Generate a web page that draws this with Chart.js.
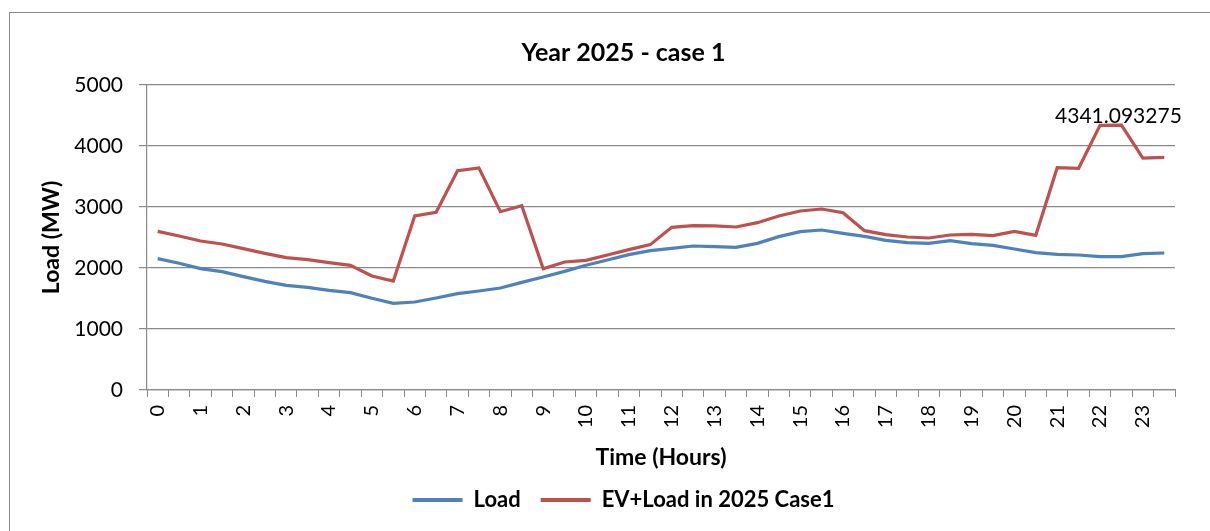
<!DOCTYPE html>
<html>
<head>
<meta charset="utf-8">
<script src="https://cdn.jsdelivr.net/npm/chart.js@4/dist/chart.umd.min.js"></script>
<style>
  html, body { margin: 0; padding: 0; background: #ffffff; overflow: hidden; }
  #wrap { position: relative; width: 1210px; height: 531px; }
  #frame { position: absolute; left: 9px; top: 12px; width: 1400px; height: 700px; border: 1px solid #8a8a8a; box-sizing: border-box; pointer-events: none; }
  canvas { position: absolute; left: 0; top: 0; }
</style>
</head>
<body>
<div id="wrap">
  <div id="frame"></div>
  <canvas id="c" width="1210" height="531"></canvas>
</div>
<script>
const chartTitle = 'Year 2025 - case 1';
const xTitle = 'Time (Hours)';
const yTitle = 'Load (MW)';

// 48 half-hour categories
const categories = ['0','0.5','1','1.5','2','2.5','3','3.5','4','4.5','5','5.5',
  '6','6.5','7','7.5','8','8.5','9','9.5','10','10.5','11','11.5',
  '12','12.5','13','13.5','14','14.5','15','15.5','16','16.5','17','17.5',
  '18','18.5','19','19.5','20','20.5','21','21.5','22','22.5','23','23.5'];

// labels shown under the axis (every other category)
const tickLabels = ['0','','1','','2','','3','','4','','5','',
  '6','','7','','8','','9','','10','','11','',
  '12','','13','','14','','15','','16','','17','',
  '18','','19','','20','','21','','22','','23',''];

const seriesNames = ['Load', 'EV+Load in 2025 Case1'];

const loadValues = [2153,2077,1989,1940,1858,1781,1716,1683,1634,1596,1503,1421,
  1443,1508,1579,1623,1672,1765,1852,1945,2044,2131,2219,2284,
  2322,2361,2350,2339,2404,2514,2596,2623,2568,2519,2454,2415,
  2404,2448,2399,2372,2311,2251,2224,2213,2186,2186,2235,2246];

const evLoadValues = [2601,2525,2443,2393,2317,2240,2169,2137,2087,2044,1869,1787,
  2852,2913,3596,3639,2923,3022,1989,2098,2126,2213,2301,2383,
  2667,2694,2689,2672,2743,2852,2934,2967,2907,2612,2546,2508,
  2492,2541,2552,2530,2601,2536,3645,3634,4338,4341.093275,3803,3814];

const labelledIndex = 45;
const yTicks = [0, 1000, 2000, 3000, 4000, 5000];

const blue = '#4f81bd';
const red = '#c0504d';
const gridGray = '#8a8a8a';
const fontFamily = 'Lato, "Open Sans", sans-serif';

const dataLabelPlugin = {
  id: 'dataLabel',
  afterDatasetsDraw(chart) {
    const meta = chart.getDatasetMeta(1);
    const pt = meta.data[labelledIndex];
    if (!pt) return;
    const ctx = chart.ctx;
    ctx.save();
    ctx.font = '21px ' + fontFamily;
    ctx.fillStyle = '#000000';
    ctx.textAlign = 'center';
    ctx.textBaseline = 'alphabetic';
    ctx.fillText(String(evLoadValues[labelledIndex]), pt.x - 3, pt.y - 2);
    ctx.restore();
  }
};

new Chart(document.getElementById('c'), {
  type: 'line',
  data: {
    labels: categories,
    datasets: [
      { label: seriesNames[0], data: loadValues, borderColor: blue, backgroundColor: blue,
        borderWidth: 3.2, pointRadius: 0, tension: 0, fill: false },
      { label: seriesNames[1], data: evLoadValues, borderColor: red, backgroundColor: red,
        borderWidth: 3.2, pointRadius: 0, tension: 0, fill: false }
    ]
  },
  options: {
    responsive: false,
    animation: false,
    devicePixelRatio: 1,
    layout: { padding: { left: 72, right: 35, top: 0, bottom: 10 } },
    plugins: {
      title: {
        display: true, text: chartTitle, color: '#000000',
        font: { family: fontFamily, size: 25, weight: 'bold' },
        padding: { top: 38, bottom: 17 }
      },
      legend: {
        position: 'bottom',
        labels: {
          color: '#000000',
          font: { family: fontFamily, size: 22, weight: 'bold' },
          boxWidth: 50, boxHeight: 4, padding: 20,
          generateLabels(chart) {
            const items = Chart.defaults.plugins.legend.labels.generateLabels(chart);
            items.forEach(it => { it.lineWidth = 0; });
            return items;
          }
        }
      },
      tooltip: { enabled: false }
    },
    scales: {
      x: {
        type: 'category',
        offset: true,
        grid: { display: true, drawOnChartArea: false, drawTicks: true, tickLength: 7,
                color: gridGray, lineWidth: 1, offset: true },
        border: { display: true, color: gridGray, width: 1.2 },
        ticks: {
          autoSkip: false, maxRotation: 90, minRotation: 90, padding: 8,
          color: '#000000', font: { family: fontFamily, size: 20 },
          callback: (v, i) => tickLabels[i]
        },
        title: { display: true, text: xTitle, color: '#000000',
                 font: { family: fontFamily, size: 23, weight: 'bold' },
                 padding: { top: 0, bottom: -2 } },
        afterFit(scale) { scale.height = 79; }
      },
      y: {
        min: 0, max: 5000,
        afterBuildTicks(scale) { scale.ticks = yTicks.map(v => ({ value: v })); },
        grid: { color: gridGray, lineWidth: 1.2, drawTicks: true, tickLength: 8 },
        border: { display: true, color: gridGray, width: 1.2 },
        ticks: { padding: 16, color: '#000000', font: { family: fontFamily, size: 21 },
                 callback: v => String(v) },
        title: { display: true, text: yTitle, color: '#000000',
                 font: { family: fontFamily, size: 23, weight: 'bold' },
                 padding: { top: -34, bottom: 0 } },
        afterFit(scale) { scale.width = 75; }
      }
    }
  },
  plugins: [dataLabelPlugin]
});
</script>
</body>
</html>
